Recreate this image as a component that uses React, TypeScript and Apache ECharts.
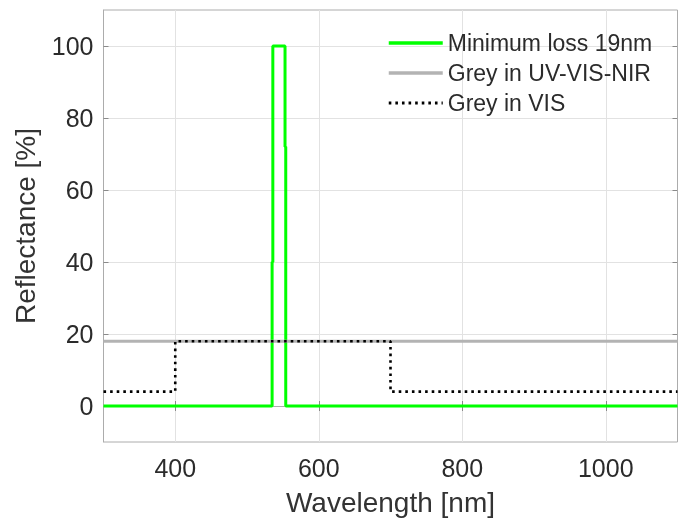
import React, { useEffect, useRef } from "react";
import * as echarts from "echarts";

// Reflectance spectra, [wavelength nm, reflectance %]
const minimumLoss19nm: [number, number][] = [
  [300, 0], [535, 0], [535, 40], [536, 40], [536, 100],
  [553, 100], [553, 72], [554, 72], [554, 0], [1100, 0],
];
const greyUvVisNir: [number, number][] = [
  [300, 18], [1100, 18],
];
const greyVis: [number, number][] = [
  [300, 4], [400, 4], [400, 18], [700, 18], [700, 4], [1100, 4],
];
const xTicks = [400, 600, 800, 1000];
const yTicks = [0, 20, 40, 60, 80, 100];

const FONT = "'Liberation Sans', Arial, Helvetica, sans-serif";

export default function App() {
  const ref = useRef<HTMLDivElement>(null);

  useEffect(() => {
    if (!ref.current) return;
    const chart = echarts.init(ref.current, undefined, { renderer: "svg" });
    const frame = "#acacac";
    const grid = "#e2e2e2";
    const labelColor = "#2b2b2b";
    const tickCommon = {
      show: true,
      inside: true,
      length: 5,
      lineStyle: { color: "#8a8a8a", width: 1 },
    };
    chart.setOption({
      animation: false,
      textStyle: { fontFamily: FONT },
      grid: {
        left: 103.5,
        right: 4.5,
        top: 10,
        bottom: 77,
        outerBoundsMode: "none",
        containLabel: false,
        show: true,
        borderColor: frame,
        borderWidth: 1,
        backgroundColor: "#fff",
      },
      legend: {
        orient: "vertical",
        left: 387,
        top: 28,
        padding: 0,
        itemWidth: 54,
        itemHeight: 10,
        itemGap: 0,
        itemStyle: { opacity: 0 },
        textStyle: {
          fontSize: 23,
          lineHeight: 30,
          color: labelColor,
          fontFamily: FONT,
          padding: [0, 0, 0, 0],
        },
        data: [
          { name: "Minimum loss 19nm", lineStyle: { width: 3.5 } },
          { name: "Grey in UV-VIS-NIR", lineStyle: { width: 3.5 } },
          { name: "Grey in VIS", lineStyle: { width: 3 } },
        ],
      },
      xAxis: [
        {
          type: "value",
          min: 300,
          max: 1100,
          name: "Wavelength [nm]",
          nameLocation: "middle",
          nameGap: 46,
          nameTextStyle: { fontSize: 28, color: "#333", fontFamily: FONT },
          axisLine: { show: true, lineStyle: { color: frame } },
          axisTick: { ...tickCommon, customValues: xTicks },
          axisLabel: {
            customValues: xTicks,
            formatter: (v: number) => String(v),
            fontSize: 25,
            color: labelColor,
            margin: 13,
            fontFamily: FONT,
          },
          splitLine: { show: true, lineStyle: { color: grid, width: 1 } },
        },
        {
          type: "value",
          position: "top",
          min: 300,
          max: 1100,
          axisLine: { show: false },
          axisTick: { ...tickCommon, customValues: xTicks },
          axisLabel: { show: false, customValues: xTicks },
          splitLine: { show: false },
        },
      ],
      yAxis: [
        {
          type: "value",
          min: -10,
          max: 110,
          name: "Reflectance [%]",
          nameLocation: "middle",
          nameGap: 64,
          nameTextStyle: { fontSize: 28, color: "#333", fontFamily: FONT },
          axisLine: { show: true, lineStyle: { color: frame } },
          axisTick: { ...tickCommon, customValues: yTicks },
          axisLabel: {
            customValues: yTicks,
            fontSize: 25,
            color: labelColor,
            margin: 10,
            fontFamily: FONT,
          },
          splitLine: { show: true, lineStyle: { color: grid, width: 1 } },
        },
        {
          type: "value",
          position: "right",
          min: -10,
          max: 110,
          axisLine: { show: false },
          axisTick: { ...tickCommon, customValues: yTicks },
          axisLabel: { show: false, customValues: yTicks },
          splitLine: { show: false },
        },
      ],
      series: [
        {
          name: "Minimum loss 19nm",
          type: "line",
          data: minimumLoss19nm,
          symbol: "none",
          lineStyle: { color: "#00ff00", width: 3 },
          itemStyle: { color: "#00ff00" },
          z: 3,
        },
        {
          name: "Grey in UV-VIS-NIR",
          type: "line",
          data: greyUvVisNir,
          symbol: "none",
          lineStyle: { color: "#b3b3b3", width: 3 },
          itemStyle: { color: "#b3b3b3" },
          z: 4,
        },
        {
          name: "Grey in VIS",
          type: "line",
          data: greyVis,
          symbol: "none",
          lineStyle: { color: "#000", width: 2.6, type: [2.6, 4] },
          itemStyle: { color: "#000" },
          z: 5,
        },
      ],
    });
    return () => chart.dispose();
  }, []);

  return (
    <div
      ref={ref}
      style={{ position: "fixed", left: 0, top: 0, width: 682, height: 519 }}
    />
  );
}
